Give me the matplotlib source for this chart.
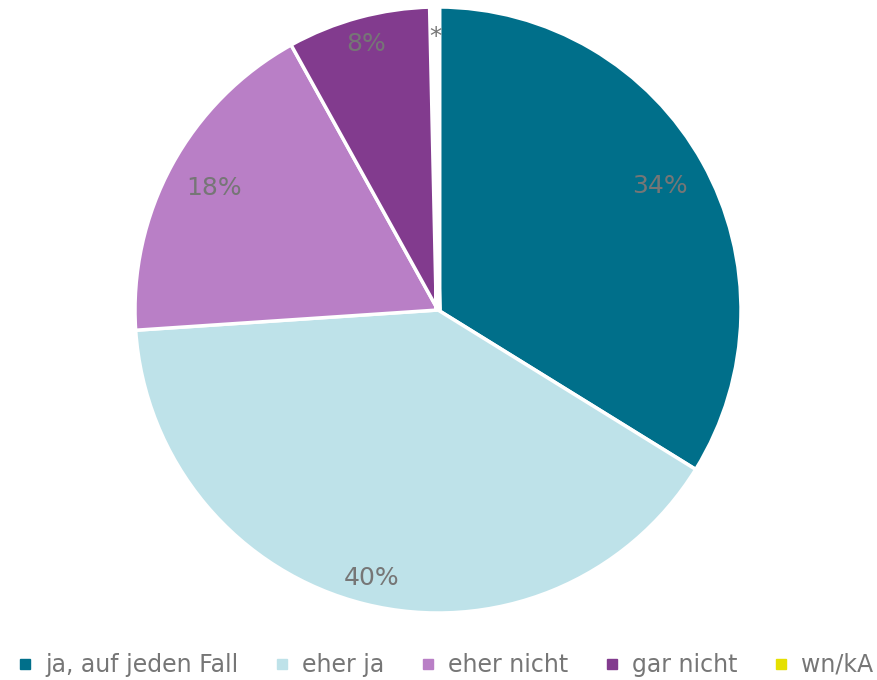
import numpy as np
import matplotlib
matplotlib.use("Agg")
import matplotlib.pyplot as plt
from matplotlib.lines import Line2D

categories = ["ja, auf jeden Fall", "eher ja", "eher nicht", "gar nicht", "wn/kA"]
values = [33.8, 40.1, 18.0, 7.7, 0.35]
labels = ["34%", "40%", "18%", "8%", "*"]
colors = ["#006F8A", "#BEE2E9", "#B97FC6", "#823B8E", "#E5E000"]
label_r = [0.84, 0.91, 0.84, 0.91, 0.90]
text_color = "#767676"

fig = plt.figure(figsize=(8.78, 6.80), dpi=100)
cx, cy, R = 438, 310, 303
ax = fig.add_axes([(cx - R) / 878, (680 - cy - R) / 680, 2 * R / 878, 2 * R / 680])
wedges, _ = ax.pie(values, colors=colors, startangle=90, counterclock=False,
                   radius=1.0, wedgeprops=dict(edgecolor="white", linewidth=2.5))
wedges[4].set_linewidth(5)
ax.set_xlim(-1, 1)
ax.set_ylim(-1, 1)
ax.set_aspect("equal")
ax.axis("off")

total = sum(values)
cum = 0.0
for v, lab, r in zip(values, labels, label_r):
    mid = 90 - 360 * (cum + v / 2) / total
    cum += v
    a = np.deg2rad(mid)
    ax.text(r * np.cos(a), r * np.sin(a), lab, ha="center", va="center",
            fontsize=18, color=text_color, family="DejaVu Sans")

handles = [Line2D([0], [0], marker="s", linestyle="none", markersize=7,
                  markerfacecolor=c, markeredgecolor=c) for c in colors]
leg = fig.legend(handles, categories, loc="center", bbox_to_anchor=(445 / 878, 1 - 665 / 680),
                 ncol=5, frameon=False, fontsize=17.0, handlelength=0.7,
                 handletextpad=0.5, columnspacing=1.5, labelcolor=text_color,
                 borderpad=0, borderaxespad=0)

fig.savefig("out.png", dpi=100)
